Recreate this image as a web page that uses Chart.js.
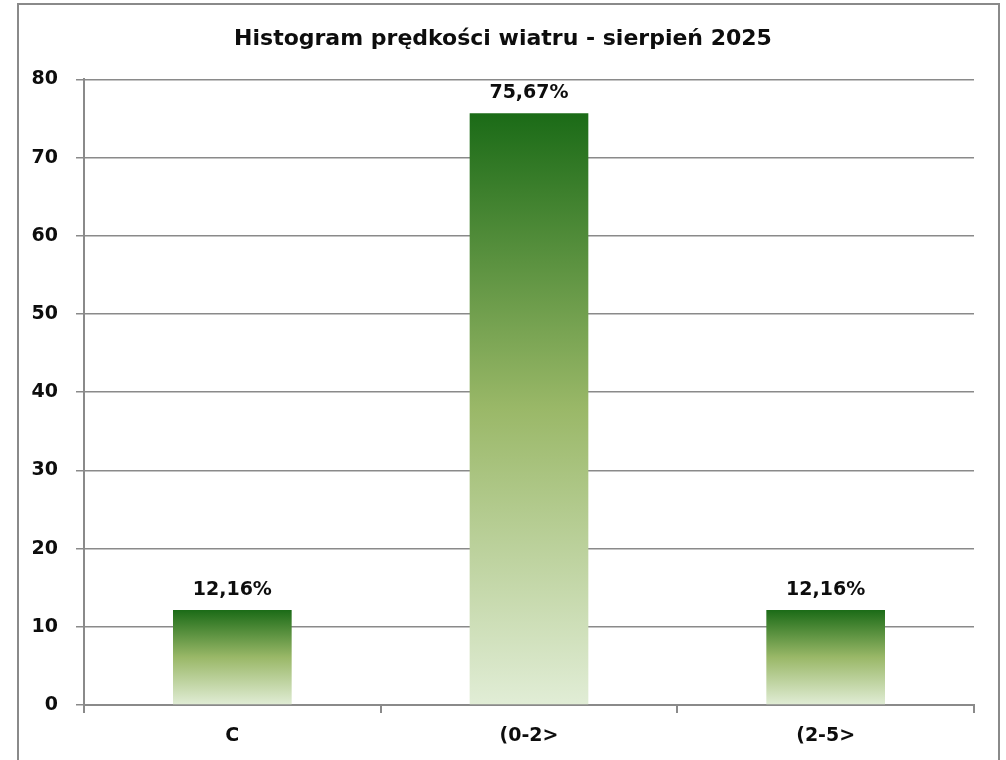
<!DOCTYPE html>
<html lang="pl">
<head>
<meta charset="utf-8">
<title>Histogram prędkości wiatru</title>
<script src="https://cdn.jsdelivr.net/npm/chart.js@4.4.1/dist/chart.umd.min.js"></script>
<style>
  html, body { margin: 0; padding: 0; background: #fff; }
  #wrap { position: relative; width: 1006px; height: 760px; }
  #ramka {
    position: absolute; left: 17px; top: 3px; width: 979px; height: 755px;
    border: 2px solid #8a8a8a; pointer-events: none;
  }
</style>
</head>
<body>
<div id="wrap">
  <canvas id="wykres" width="1006" height="760"></canvas>
  <div id="ramka"></div>
</div>
<script>
// Dane wykresu
const kategorie = ['C', '(0-2>', '(2-5>'];
const udzialy = [12.16, 75.67, 12.16];
const podzialkaY = [0, 10, 20, 30, 40, 50, 60, 70, 80];

const CZCIONKA = "'DejaVu Sans', Verdana, sans-serif";

// Gradient dla każdego słupka osobno (od góry słupka do zera)
function gradientSlupka(context) {
  const chart = context.chart;
  const { ctx, chartArea, scales } = chart;
  if (!chartArea || context.parsed == null) return '#6f9a48';
  const yGora = scales.y.getPixelForValue(context.parsed.y);
  const yDol = scales.y.getPixelForValue(0);
  const g = ctx.createLinearGradient(0, yGora, 0, yDol);
  g.addColorStop(0, '#1b6b17');
  g.addColorStop(0.5, '#9ab868');
  g.addColorStop(1, '#e1edd6');
  return g;
}

// Etykiety wartości nad słupkami
const etykietyWartosci = {
  id: 'etykietyWartosci',
  afterDatasetsDraw(chart) {
    const { ctx } = chart;
    const meta = chart.getDatasetMeta(0);
    ctx.save();
    ctx.font = 'bold 19px ' + CZCIONKA;
    ctx.fillStyle = '#0d0d0d';
    ctx.textAlign = 'center';
    ctx.textBaseline = 'alphabetic';
    meta.data.forEach((bar, i) => {
      const tekst = udzialy[i].toFixed(2).replace('.', ',') + '%';
      ctx.fillText(tekst, bar.x, bar.y - 15);
    });
    ctx.restore();
  }
};

const ctx = document.getElementById('wykres').getContext('2d');
new Chart(ctx, {
  type: 'bar',
  data: {
    labels: kategorie,
    datasets: [{
      data: udzialy,
      backgroundColor: gradientSlupka,
      borderWidth: 0,
      categoryPercentage: 1,
      barPercentage: 0.4
    }]
  },
  options: {
    responsive: false,
    animation: false,
    layout: { padding: { top: 0, right: 32, bottom: 0, left: 32 } },
    plugins: {
      legend: { display: false },
      tooltip: { enabled: false },
      title: {
        display: true,
        text: 'Histogram prędkości wiatru - sierpień 2025',
        color: '#0d0d0d',
        font: { family: CZCIONKA, size: 22, weight: 'bold', lineHeight: 1.2 },
        padding: { top: 26, bottom: 27 }
      }
    },
    scales: {
      y: {
        min: 0,
        max: 80,
        afterBuildTicks: (s) => { s.ticks = podzialkaY.map(v => ({ value: v })); },
        afterFit: (s) => { s.width = 52; },
        border: { color: '#8a8a8a', width: 2 },
        grid: { color: '#8a8a8a', lineWidth: 1.5, tickLength: 8 },
        ticks: {
          color: '#0d0d0d',
          padding: 18,
          font: { family: CZCIONKA, size: 19, weight: 'bold' }
        }
      },
      x: {
        afterFit: (s) => { s.height = 55; },
        border: { color: '#8a8a8a', width: 2 },
        grid: { offset: true, drawOnChartArea: false, color: '#8a8a8a', lineWidth: 2, tickLength: 8 },
        ticks: {
          color: '#0d0d0d',
          padding: 12,
          font: { family: CZCIONKA, size: 19, weight: 'bold' }
        }
      }
    }
  },
  plugins: [etykietyWartosci]
});
</script>
</body>
</html>
